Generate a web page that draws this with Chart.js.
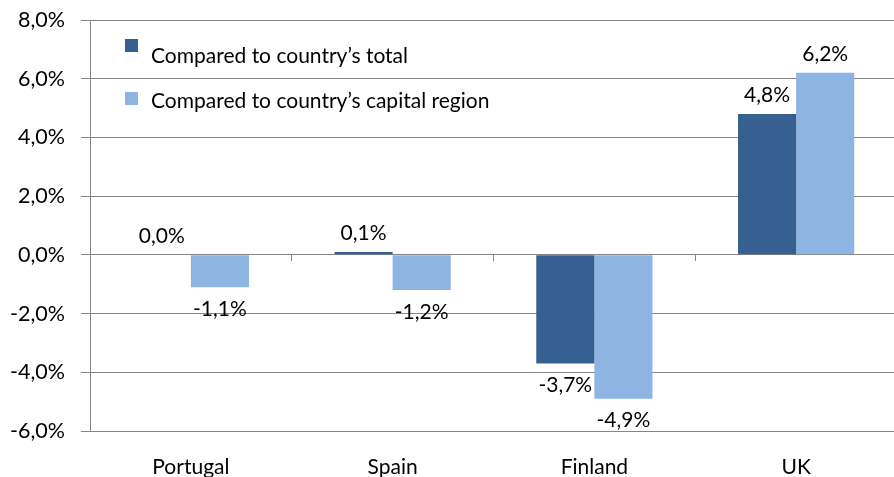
<!DOCTYPE html>
<html>
<head>
<meta charset="utf-8">
<script src="https://cdn.jsdelivr.net/npm/chart.js@4/dist/chart.umd.min.js"></script>
<style>
  html, body { margin: 0; padding: 0; background: #fff; overflow: hidden; }
  #wrap { width: 897px; height: 477px; position: relative; }
</style>
</head>
<body>
<div id="wrap"><canvas id="c" width="897" height="477"></canvas></div>
<script>
const categories = ['Portugal', 'Spain', 'Finland', 'UK'];
const seriesNames = ['Compared to country\u2019s total', 'Compared to country\u2019s capital region'];
const totalValues = [0.0, 0.1, -3.7, 4.8];
const capitalValues = [-1.1, -1.2, -4.9, 6.2];
const yTicks = [-6, -4, -2, 0, 2, 4, 6, 8];

const DARK = '#376092';
const LIGHT = '#8DB4E2';
const GRID = '#868686';
const FONT = 'Lato, "Open Sans", sans-serif';

const fmt = v => v.toFixed(1).replace('.', ',') + '%';

const labelPlugin = {
  id: 'valueLabels',
  afterDatasetsDraw(chart) {
    const ctx = chart.ctx;
    ctx.save();
    ctx.font = '21px ' + FONT;
    ctx.fillStyle = '#000';
    ctx.textAlign = 'center';
    ctx.textBaseline = 'middle';
    chart.data.datasets.forEach((ds, i) => {
      const meta = chart.getDatasetMeta(i);
      meta.data.forEach((bar, j) => {
        const v = ds.data[j];
        const y = v >= 0 ? bar.y - 19 : bar.y + 22;
        ctx.fillText(fmt(v), bar.x, y);
      });
    });
    ctx.restore();
  }
};

const legendPlugin = {
  id: 'insideLegend',
  afterDraw(chart) {
    const ctx = chart.ctx;
    ctx.save();
    ctx.font = '21px ' + FONT;
    ctx.textAlign = 'left';
    ctx.textBaseline = 'alphabetic';
    const rows = [{sq: 39, base: 63}, {sq: 92, base: 108}];
    chart.data.datasets.forEach((ds, i) => {
      ctx.fillStyle = ds.backgroundColor;
      ctx.fillRect(125, rows[i].sq, 13, 13);
      ctx.fillStyle = '#000';
      ctx.fillText(ds.label, 151, rows[i].base);
    });
    ctx.restore();
  }
};

new Chart(document.getElementById('c'), {
  type: 'bar',
  data: {
    labels: categories,
    datasets: [
      { label: seriesNames[0], data: totalValues, backgroundColor: DARK, xAxisID: 'x', yAxisID: 'y' },
      { label: seriesNames[1], data: capitalValues, backgroundColor: LIGHT, xAxisID: 'x', yAxisID: 'y' }
    ]
  },
  options: {
    responsive: false,
    animation: false,
    devicePixelRatio: 1,
    categoryPercentage: 0.576,
    barPercentage: 1.0,
    layout: { padding: { top: 20, left: 0, right: 0, bottom: 0 } },
    plugins: { legend: { display: false }, tooltip: { enabled: false } },
    scales: {
      y: {
        min: -6, max: 8,
        afterBuildTicks: s => { s.ticks = yTicks.map(v => ({ value: v })); },
        afterFit: s => { s.width = 90; s.paddingTop = 0; s.paddingBottom = 0; },
        grid: { color: GRID, lineWidth: 1, tickLength: 9 },
        border: { display: true, color: GRID },
        ticks: { padding: 16, color: '#000', font: { family: FONT, size: 21.5 }, callback: v => fmt(v) }
      },
      x: {
        type: 'category',
        position: { y: 0 },
        offset: true,
        grid: { display: true, drawOnChartArea: false, offset: true, tickLength: 6, color: GRID },
        border: { display: true, color: GRID },
        ticks: { display: false }
      },
      x2: {
        type: 'category',
        labels: categories,
        position: 'bottom',
        offset: true,
        afterFit: s => { s.height = 46; },
        grid: { display: false, drawTicks: false },
        border: { display: false },
        ticks: { padding: 24, color: '#000', font: { family: FONT, size: 21 } }
      }
    }
  },
  plugins: [labelPlugin, legendPlugin]
});
</script>
</body>
</html>
